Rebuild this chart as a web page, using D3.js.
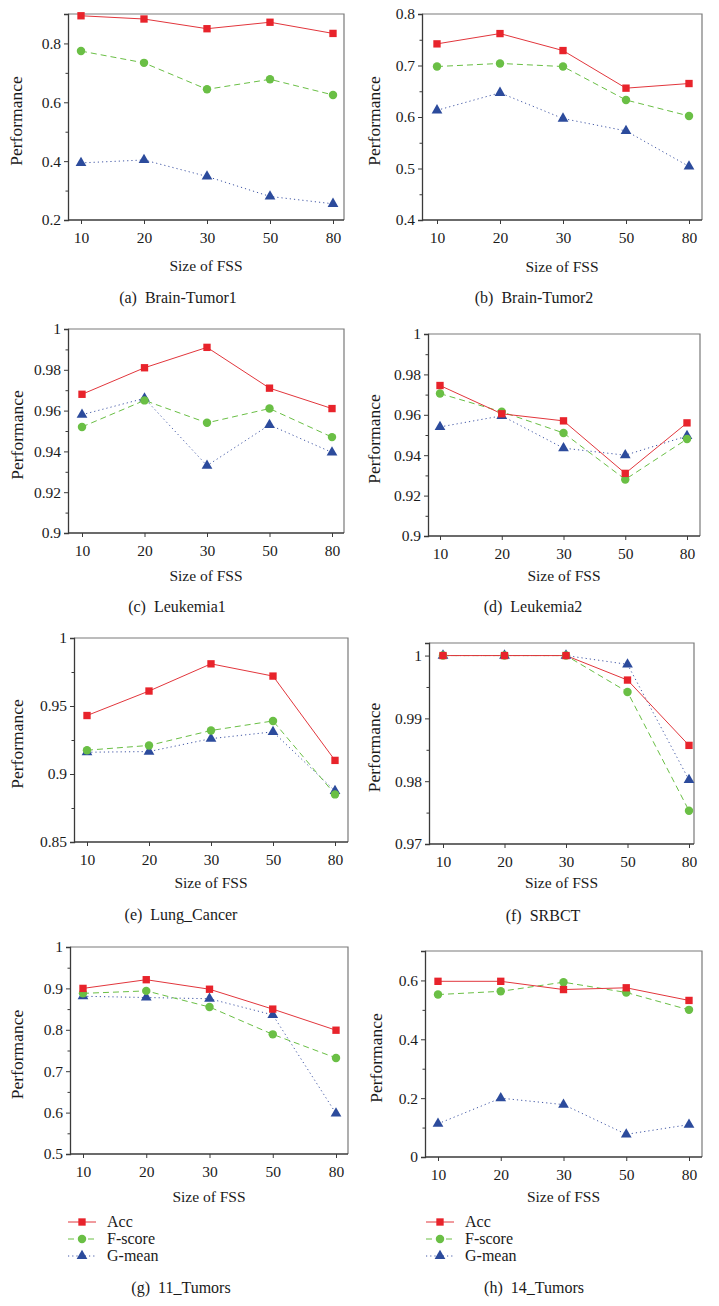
<!DOCTYPE html>
<html><head><meta charset="utf-8">
<script src="https://cdn.jsdelivr.net/npm/d3@7/dist/d3.min.js"></script>
<style>
html,body{margin:0;padding:0;background:#fff;}
svg{display:block;}
svg text{font-family:"Liberation Serif","Times New Roman",Times,"DejaVu Serif",serif;}
</style>
</head><body>
<svg id="chart" width="719" height="1306"></svg>
<script>
// ---------- data ----------
const sizes = ["10", "20", "30", "50", "80"];
const seriesNames = ["Acc", "F-score", "G-mean"];
const panelLabels = ["(a)  Brain-Tumor1", "(b)  Brain-Tumor2", "(c)  Leukemia1", "(d)  Leukemia2",
                     "(e)  Lung_Cancer", "(f)  SRBCT", "(g)  11_Tumors", "(h)  14_Tumors"];

const brainTumor1Acc = [0.894, 0.883, 0.850, 0.872, 0.834];
const brainTumor1F   = [0.774, 0.734, 0.644, 0.678, 0.625];
const brainTumor1G   = [0.394, 0.404, 0.348, 0.280, 0.255];

const brainTumor2Acc = [0.742, 0.762, 0.729, 0.656, 0.665];
const brainTumor2F   = [0.698, 0.704, 0.698, 0.633, 0.602];
const brainTumor2G   = [0.613, 0.647, 0.597, 0.573, 0.504];

const leukemia1Acc = [0.968, 0.981, 0.991, 0.971, 0.961];
const leukemia1F   = [0.952, 0.965, 0.954, 0.961, 0.947];
const leukemia1G   = [0.958, 0.966, 0.933, 0.953, 0.9395];

const leukemia2Acc = [0.9745, 0.9605, 0.957, 0.931, 0.956];
const leukemia2F   = [0.9705, 0.9615, 0.951, 0.928, 0.948];
const leukemia2G   = [0.954, 0.9595, 0.9435, 0.940, 0.9495];

const lungAcc = [0.943, 0.961, 0.981, 0.972, 0.910];
const lungF   = [0.9175, 0.921, 0.932, 0.939, 0.885];
const lungG   = [0.916, 0.9165, 0.926, 0.931, 0.8875];

const srbctAcc = [1, 1, 1, 0.9961, 0.9857];
const srbctF   = [1, 1, 1, 0.9942, 0.9753];
const srbctG   = [1, 1, 1, 0.9986, 0.9802];

const tumors11Acc = [0.900, 0.921, 0.898, 0.850, 0.799];
const tumors11F   = [0.888, 0.894, 0.855, 0.789, 0.732];
const tumors11G   = [0.881, 0.878, 0.875, 0.836, 0.598];

const tumors14Acc = [0.597, 0.597, 0.569, 0.575, 0.532];
const tumors14F   = [0.552, 0.563, 0.594, 0.559, 0.500];
const tumors14G   = [0.113, 0.200, 0.178, 0.077, 0.110];

const yDomains = [[0.2, 0.9], [0.4, 0.8], [0.9, 1], [0.9, 1], [0.85, 1], [0.97, 1.002], [0.5, 1], [0, 0.7]];
const yMajorTicks = [
  [0.2, 0.4, 0.6, 0.8], [0.4, 0.5, 0.6, 0.7, 0.8], [0.9, 0.92, 0.94, 0.96, 0.98, 1], [0.9, 0.92, 0.94, 0.96, 0.98, 1],
  [0.85, 0.9, 0.95, 1], [0.97, 0.98, 0.99, 1], [0.5, 0.6, 0.7, 0.8, 0.9, 1], [0, 0.2, 0.4, 0.6]];
const yMinorTicks = [
  [0.3, 0.5, 0.7], [0.45, 0.55, 0.65, 0.75], [0.91, 0.93, 0.95, 0.97, 0.99], [0.91, 0.93, 0.95, 0.97, 0.99],
  [0.875, 0.925, 0.975], [0.975, 0.985, 0.995], [0.55, 0.65, 0.75, 0.85, 0.95], [0.1, 0.3, 0.5]];

const panelData = [
  [brainTumor1Acc, brainTumor1F, brainTumor1G],
  [brainTumor2Acc, brainTumor2F, brainTumor2G],
  [leukemia1Acc, leukemia1F, leukemia1G],
  [leukemia2Acc, leukemia2F, leukemia2G],
  [lungAcc, lungF, lungG],
  [srbctAcc, srbctF, srbctG],
  [tumors11Acc, tumors11F, tumors11G],
  [tumors14Acc, tumors14F, tumors14G]
];

// ---------- layout (positions, not data) ----------
const layout = [
  {l: 68,  r: 344, t: 14,  b: 220,  x0: 81,  x1: 333, yl: 17,  xlab: 271,  cap: 303,  capx: 178},
  {l: 422, r: 702, t: 14,  b: 220,  x0: 437, x1: 689, yl: 375, xlab: 272,  cap: 303,  capx: 534},
  {l: 68,  r: 344, t: 329, b: 533,  x0: 82,  x1: 332, yl: 18,  xlab: 581,  cap: 612,  capx: 177},
  {l: 428, r: 700, t: 334, b: 536,  x0: 440, x1: 687, yl: 375, xlab: 581,  cap: 612,  capx: 533},
  {l: 74,  r: 348, t: 638, b: 842,  x0: 87,  x1: 335, yl: 18,  xlab: 888,  cap: 920,  capx: 181},
  {l: 429, r: 694, t: 643, b: 844,  x0: 443, x1: 689, yl: 375, xlab: 888,  cap: 921,  capx: 543},
  {l: 70,  r: 348, t: 947, b: 1154, x0: 83,  x1: 336, yl: 18,  xlab: 1202, cap: 1293, capx: 181, legend: {x: 68, y: 1222}},
  {l: 425, r: 702, t: 951, b: 1157, x0: 438, x1: 689, yl: 377, xlab: 1202, cap: 1293, capx: 534, legend: {x: 426, y: 1222}}
];

const colors = ["#e8232b", "#6abf45", "#2c4b9c"];
const lineColors = ["#e2363c", "#6abf45", "#4258a6"];
const dashes = [null, "6,4", "1.2,3"];
const symbols = [d3.symbolSquare, d3.symbolCircle, d3.symbolTriangle];
const symbolSizes = [54, 56, 50];
const fmt = v => String(+v.toFixed(4));

const svg = d3.select("#chart");

panelData.forEach((series, i) => {
  const L = layout[i];
  const g = svg.append("g");
  const x = d3.scalePoint().domain(sizes).range([L.x0, L.x1]);
  const y = d3.scaleLinear().domain(yDomains[i]).range([L.b, L.t]);

  // frame (top & right lighter)
  g.append("path").attr("d", `M${L.l},${L.t}H${L.r}V${L.b}`)
    .attr("fill", "none").attr("stroke", "#7a7a7a").attr("stroke-width", 1.2);

  // y axis
  const yAxis = d3.axisLeft(y).tickValues(yMajorTicks[i]).tickFormat(fmt).tickSizeOuter(0).tickSize(4).tickPadding(3);
  const ya = g.append("g").attr("transform", `translate(${L.l},0)`).call(yAxis);
  const yMinor = d3.axisLeft(y).tickValues(yMinorTicks[i]).tickFormat("").tickSizeOuter(0).tickSize(2.5);
  const ym = g.append("g").attr("transform", `translate(${L.l},0)`).call(yMinor);
  ym.select(".domain").remove();

  // x axis
  const xAxis = d3.axisBottom(x).tickSizeOuter(0).tickSize(4).tickPadding(8);
  const xa = g.append("g").attr("transform", `translate(0,${L.b})`).call(xAxis);
  xa.select(".domain").attr("d", `M${L.l},0H${L.r}`);

  [ya, ym, xa].forEach(a => {
    a.attr("font-family", null);
    a.selectAll("path.domain").attr("stroke", "#3a3a3a").attr("stroke-width", 1.3);
    a.selectAll(".tick line").attr("stroke", "#3a3a3a").attr("stroke-width", 1);
    a.selectAll("text").attr("font-size", 15.5).attr("fill", "#1a1a1a");
  });

  // axis titles
  g.append("text").attr("x", (L.l + L.r) / 2).attr("y", L.xlab).attr("text-anchor", "middle")
    .attr("font-size", 15.5).attr("fill", "#1a1a1a").text("Size of FSS");
  g.append("text").attr("transform", `translate(${L.yl + 5},${(L.t + L.b) / 2 + 4}) rotate(-90)`)
    .attr("text-anchor", "middle").attr("font-size", 17.5).attr("fill", "#1a1a1a")
    .text("Performance");
  g.append("text").attr("x", L.capx).attr("y", L.cap).attr("text-anchor", "middle")
    .attr("font-size", 16).attr("fill", "#1a1a1a")
    .style("white-space", "pre").text(panelLabels[i]);

  // series: draw in reverse order so Acc on top
  const line = d3.line().x((d, j) => x(sizes[j])).y(d => y(d));
  [2, 1, 0].forEach(s => {
    g.append("path").datum(series[s]).attr("d", line)
      .attr("fill", "none").attr("stroke", lineColors[s]).attr("stroke-width", 1)
      .attr("stroke-dasharray", dashes[s]);
  });
  [2, 1, 0].forEach(s => {
    g.selectAll(null).data(series[s]).join("path")
      .attr("transform", (d, j) => `translate(${x(sizes[j])},${y(d)})`)
      .attr("d", d3.symbol().type(symbols[s]).size(symbolSizes[s]))
      .attr("fill", colors[s]);
  });

  // legend
  if (L.legend) {
    seriesNames.forEach((name, s) => {
      const ly = L.legend.y + s * 17;
      g.append("line").attr("x1", L.legend.x).attr("x2", L.legend.x + 28).attr("y1", ly).attr("y2", ly)
        .attr("stroke", lineColors[s]).attr("stroke-width", 1).attr("stroke-dasharray", dashes[s]);
      g.append("path").attr("transform", `translate(${L.legend.x + 14},${ly})`)
        .attr("d", d3.symbol().type(symbols[s]).size(symbolSizes[s])).attr("fill", colors[s]);
      g.append("text").attr("x", L.legend.x + 39).attr("y", ly + 5)
        .attr("font-size", 16).attr("fill", "#1a1a1a").text(name);
    });
  }
});
</script>
</body></html>
